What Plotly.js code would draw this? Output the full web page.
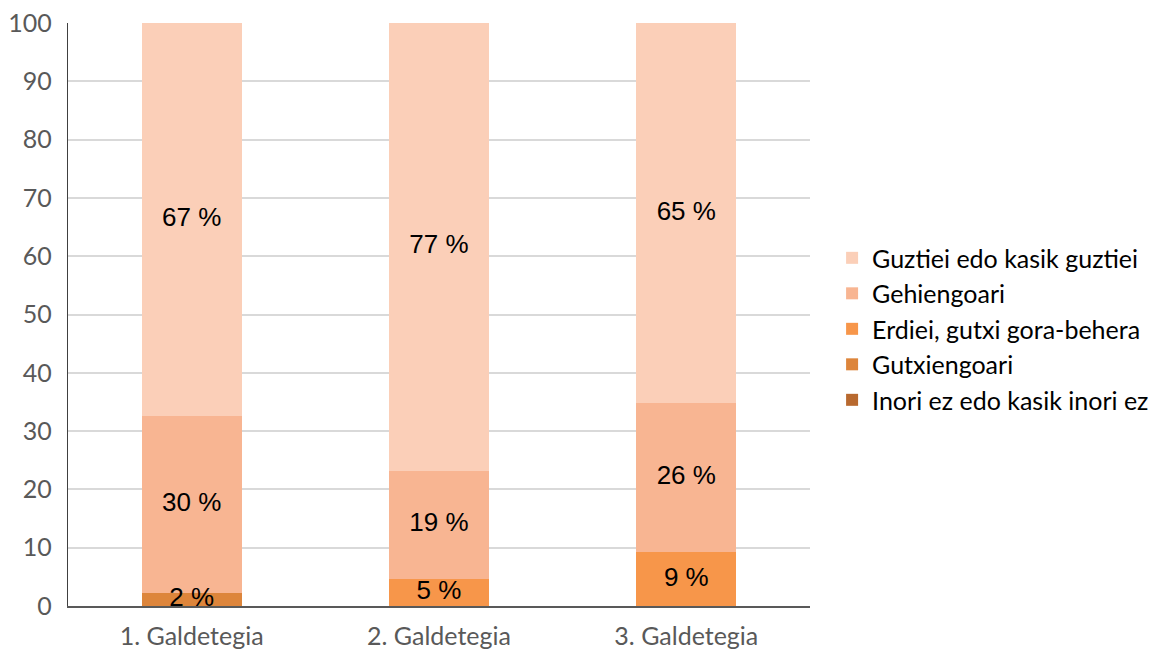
<!DOCTYPE html>
<html>
<head>
<meta charset="utf-8">
<script src="https://cdn.plot.ly/plotly-3.0.1.min.js"></script>
<style>html,body{margin:0;padding:0;background:#fff;}#chart{width:1158px;height:650px;}</style>
</head>
<body>
<div id="chart"></div>
<script>
const categories = ["1. Galdetegia", "2. Galdetegia", "3. Galdetegia"];
const seriesNames = ["Inori ez edo kasik inori ez", "Gutxiengoari", "Erdiei, gutxi gora-behera", "Gehiengoari", "Guztiei edo kasik guztiei"];
const inori = [null, null, null];
const gutxiengoari = [2.2, null, null];
const erdiei = [null, 4.6, 9.2];
const gehiengoari = [30.4, 18.6, 25.6];
const guztiei = [67.4, 76.8, 65.2];
const colors = ["#B8692F", "#DD853B", "#F7964A", "#F8B592", "#FBCFB8"];
const yTicks = [0, 10, 20, 30, 40, 50, 60, 70, 80, 90, 100];

const allSeries = [inori, gutxiengoari, erdiei, gehiengoari, guztiei];

const barTraces = allSeries.map((vals, i) => ({
  type: "bar",
  name: seriesNames[i],
  x: categories,
  y: vals,
  marker: {color: colors[i]},
  hoverinfo: "skip"
}));

// Data labels drawn on top of all bars, centred on each segment
const cum = categories.map(() => 0);
const labelTraces = [];
allSeries.forEach((vals) => {
  const ys = [], txt = [];
  vals.forEach((v, j) => {
    if (v == null) { ys.push(null); txt.push(""); return; }
    ys.push(cum[j] + v / 2);
    txt.push(Math.round(v) + " %");
    cum[j] += v;
  });
  labelTraces.push({
    type: "scatter",
    mode: "text",
    x: categories,
    y: ys,
    text: txt,
    textposition: "middle center",
    cliponaxis: false,
    showlegend: false,
    hoverinfo: "skip",
    textfont: {family: "Liberation Sans, Arial, sans-serif", size: 26, color: "#000"}
  });
});

const layout = {
  width: 1158, height: 650,
  margin: {l: 68, r: 0, t: 23, b: 44, autoexpand: false},
  barmode: "stack",
  bargap: 0.595,
  paper_bgcolor: "#fff", plot_bgcolor: "#fff",
  showlegend: true,
  legend: {
    x: 0.701, xanchor: "left", y: 0.475, yanchor: "middle",
    traceorder: "reversed",
    font: {family: "Lato, Open Sans, sans-serif", size: 25, color: "#000"},
    itemwidth: 30, tracegroupgap: 0
  },
  xaxis: {
    type: "category",
    domain: [0, 0.6807],
    showgrid: false,
    showline: true, linecolor: "#595959", linewidth: 1.5,
    ticks: "",
    ticklabelstandoff: 7,
    tickfont: {family: "Lato, Open Sans, sans-serif", size: 25, color: "#595959"},
    fixedrange: true
  },
  yaxis: {
    range: [0, 100],
    tickvals: yTicks,
    showgrid: true, gridcolor: "#D9D9D9", gridwidth: 2,
    showline: true, linecolor: "#404040", linewidth: 1.2,
    zeroline: false,
    ticks: "",
    ticklabelstandoff: 10,
    tickfont: {family: "Lato, Open Sans, sans-serif", size: 25, color: "#595959"},
    fixedrange: true
  }
};

Plotly.newPlot("chart", barTraces.concat(labelTraces), layout, {displayModeBar: false, staticPlot: true});
</script>
</body>
</html>
